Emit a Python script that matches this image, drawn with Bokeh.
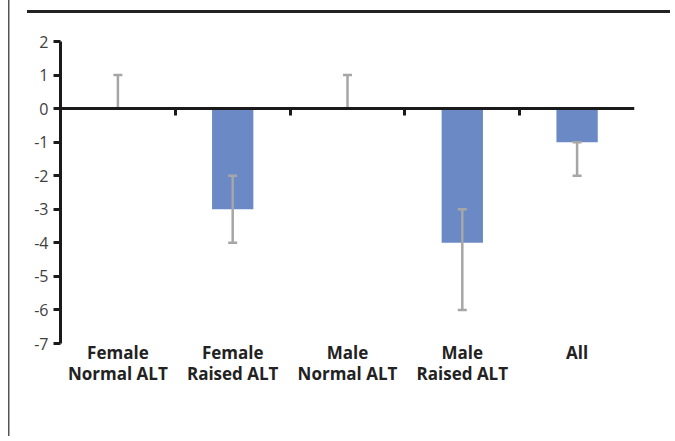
from bokeh.plotting import figure
from bokeh.models import (ColumnDataSource, Whisker, TeeHead, FixedTicker, LinearAxis, Range1d)
from bokeh.embed import file_html
from bokeh.resources import INLINE

# ---- data ----
categories = ["Female\nNormal ALT", "Female\nRaised ALT", "Male\nNormal ALT",
              "Male\nRaised ALT", "All"]
values = [0, -3, 0, -4, -1]
err_upper = [1, -2, 1, -3, -1]
err_lower = [0, -4, 0, -6, -2]
y_ticks = [2, 1, 0, -1, -2, -3, -4, -5, -6, -7]

n = len(categories)
centers = [i + 0.5 for i in range(n)]
boundaries = [i for i in range(1, n)]

src = ColumnDataSource(dict(x=centers, top=values, upper=err_upper, lower=err_lower))

FONT = "Open Sans"
BAR = "#6B8AC5"
ERR = "#A6A6A6"
DARK = "#1a1a1a"

W, H = 670, 436
p = figure(width=W, height=H,
           x_range=Range1d(0, n), y_range=Range1d(min(y_ticks), max(y_ticks)),
           output_backend="svg", toolbar_location=None,
           x_axis_location=None, y_axis_location=None,
           min_border_left=60, min_border_right=W - 634, min_border_top=41,
           min_border_bottom=H - 343)
p.outline_line_color = None
p.grid.grid_line_color = None
p.background_fill_color = "white"
p.border_fill_color = None
p.styles = {
    "background": ("linear-gradient(#555555,#555555) 8px 0px/1.5px 100% no-repeat, "
                   "linear-gradient(#222222,#222222) 27px 10px/100% 3px no-repeat, white")
}

# bars
p.vbar(x="x", top="top", bottom=0, width=0.36, source=src,
       fill_color=BAR, line_color=None)

# error bars
wh = Whisker(base="x", upper="upper", lower="lower", source=src,
             line_color=ERR, line_width=2.5, level="glyph",
             upper_head=TeeHead(size=9, line_color=ERR, line_width=2.5),
             lower_head=TeeHead(size=9, line_color=ERR, line_width=2.5))
p.add_layout(wh)

# y axis
yax = LinearAxis(ticker=FixedTicker(ticks=y_ticks),
                 major_label_overrides={t: str(t) for t in y_ticks},
                 axis_line_width=3, axis_line_color=DARK,
                 major_tick_line_width=3, major_tick_line_color=DARK,
                 major_tick_in=0, major_tick_out=7,
                 minor_tick_line_color=None,
                 major_label_standoff=5,
                 major_label_text_font=FONT, major_label_text_font_size="16px",
                 major_label_text_color="#404040")
p.add_layout(yax, "left")

# zero line axis with ticks at category boundaries
zax = LinearAxis(fixed_location=0, ticker=FixedTicker(ticks=boundaries),
                 axis_line_width=3, axis_line_color=DARK,
                 major_tick_line_width=3, major_tick_line_color=DARK,
                 major_tick_in=0, major_tick_out=7,
                 minor_tick_line_color=None,
                 major_label_text_alpha=0, major_label_text_font_size="1px")
p.add_layout(zax, "below")

# category label axis
lax = LinearAxis(ticker=FixedTicker(ticks=centers),
                 major_label_overrides={c: lab for c, lab in zip(centers, categories)},
                 axis_line_color=None, major_tick_line_color=None,
                 minor_tick_line_color=None,
                 major_tick_in=0, major_tick_out=0, major_label_standoff=-3,
                 major_label_text_font=FONT, major_label_text_font_size="17px",
                 major_label_text_line_height=0.95,
                 major_label_text_font_style="bold", major_label_text_color="#222222")
p.add_layout(lax, "below")

open("out.html", "w").write(file_html(p, INLINE))
